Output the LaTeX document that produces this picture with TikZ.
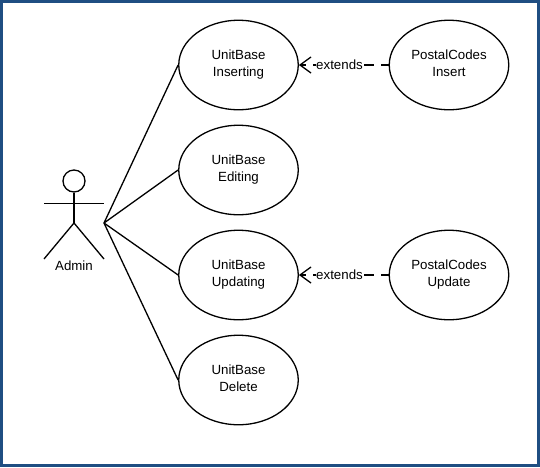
\documentclass[tikz,border=0pt]{standalone}
\usepackage{fontspec}
\setmainfont{Liberation Sans}
\definecolor{frameblue}{HTML}{1F4E82}
\newcommand{\lowfix}{\rule[-3.8pt]{0pt}{1pt}}
\tikzset{
  usecase/.style={draw=black,line width=1.3pt,ellipse,minimum width=119.5pt,minimum height=89.5pt,inner sep=0pt,align=center,font=\fontsize{13.3}{16.3}\selectfont},
  stick/.style={draw=black,line width=1.3pt},
  extendline/.style={draw=black,line width=1.3pt,dash pattern=on 10pt off 7pt,dash phase=2pt,-{Straight Barb[length=11pt,width=16pt,line width=1.3pt]}},
  lbl/.style={fill=white,inner sep=0.5pt,font=\fontsize{13.3}{16}\selectfont}
}
\usetikzlibrary{shapes.geometric,arrows.meta}
\begin{document}
\begin{tikzpicture}[x=1pt,y=-1pt]
\useasboundingbox (0,0) rectangle (540,467);
\fill[white] (0,0) rectangle (540,467);
\draw[frameblue,line width=3.4pt] (1.7,1.7) rectangle (538.3,465.3);
\node[usecase] (ins) at (238.5,65) {UnitBase\\Inserting\lowfix};
\node[usecase] (edi) at (238.5,170) {UnitBase\\Editing\lowfix};
\node[usecase] (upd) at (238.5,275) {UnitBase\\Updating\lowfix};
\node[usecase] (del) at (238.5,380) {UnitBase\\Delete\lowfix};
\node[usecase] (pins) at (449,65) {PostalCodes\\Insert\lowfix};
\node[usecase] (pupd) at (449,275) {PostalCodes\\Update\lowfix};
% actor
\node[draw=black,line width=1.3pt,circle,minimum size=22pt,inner sep=0pt] (head) at (74,181) {};
\coordinate (hip) at (74,223);
\coordinate (armL) at (44,203.5);
\coordinate (armR) at (104,203.5);
\coordinate (legL) at (44,259);
\coordinate (legR) at (104,259);
\coordinate (actor) at (104,223);
\draw[stick] (head.south) -- (hip);
\draw[stick] (armL) -- (armR);
\draw[stick] (legL) -- (hip) -- (legR);
\node[font=\fontsize{13.3}{16}\selectfont] (admin) at (74,266) {Admin};
% associations
\draw[stick] (actor) -- (ins.west);
\draw[stick] (actor) -- (edi.west);
\draw[stick] (actor) -- (upd.west);
\draw[stick] (actor) -- (del.west);
% extends
\draw[extendline] (pins.west) -- (ins.east) node[lbl,pos=0.547] (e1) {extends};
\draw[extendline] (pupd.west) -- (upd.east) node[lbl,pos=0.547] (e2) {extends};
\end{tikzpicture}
\end{document}
